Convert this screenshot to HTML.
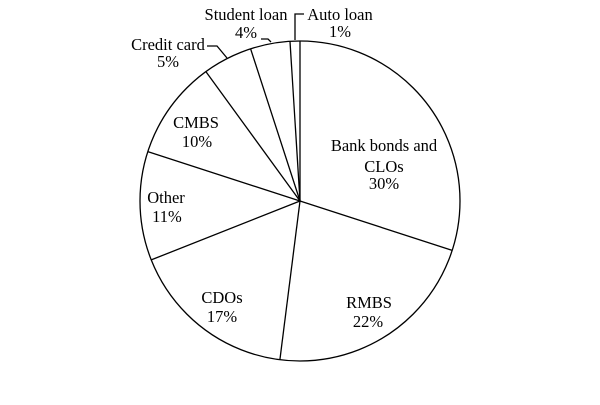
<!DOCTYPE html>
<html><head><style>body{margin:0;background:#fff}svg{display:block}</style></head><body>
<svg width="600" height="405" viewBox="0 0 600 405" xmlns="http://www.w3.org/2000/svg" font-family="Liberation Serif, serif" font-size="16.5" fill="#000">
<g stroke="#000" stroke-width="1.3" fill="none">
<circle cx="300" cy="201" r="160" fill="#fff"/>
<line x1="300" y1="201" x2="300" y2="41"/>
<line x1="300" y1="201" x2="452.2" y2="250.4"/>
<line x1="300" y1="201" x2="279.9" y2="359.7"/>
<line x1="300" y1="201" x2="151.2" y2="259.9"/>
<line x1="300" y1="201" x2="147.8" y2="151.6"/>
<line x1="300" y1="201" x2="205.9" y2="71.6"/>
<line x1="300" y1="201" x2="250.6" y2="48.8"/>
<line x1="300" y1="201" x2="290" y2="41.3"/>
<polyline points="295,40 295,14 304,14"/>
<polyline points="261,39 268,39 271,42"/>
<polyline points="207,46 217,46 227,58"/>
</g>
<g text-anchor="middle">
<text x="246" y="20">Student loan</text><text x="246" y="38">4%</text>
<text x="340" y="20">Auto loan</text><text x="340" y="37">1%</text>
<text x="168" y="50">Credit card</text><text x="168" y="67">5%</text>
<text x="384" y="151">Bank bonds and</text><text x="384" y="172">CLOs</text><text x="384" y="189">30%</text>
<text x="369" y="308">RMBS</text><text x="368" y="327">22%</text>
<text x="222" y="303">CDOs</text><text x="222" y="322">17%</text>
<text x="166" y="203">Other</text><text x="167" y="222">11%</text>
<text x="196" y="128">CMBS</text><text x="197" y="147">10%</text>
</g>
</svg>
</body></html>
